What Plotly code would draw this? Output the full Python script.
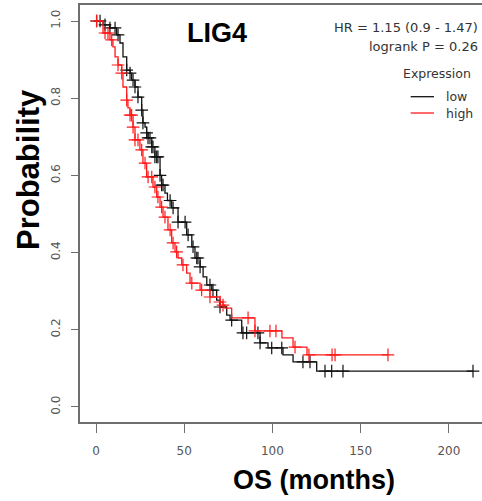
import plotly.graph_objects as go
import numpy as np

# ---- data ----
low_time = [0, 4.0, 7.9, 11.7, 13.6, 15.3, 17.4, 19.3, 20.2, 22.1, 23.8, 25.9, 26.6, 27.8, 28.7,
            29.5, 31.6, 33.4, 36.3, 37.2, 39.1, 40.5, 42.9, 46.5, 51.4, 54.3, 56.1, 59.0, 60.7,
            62.8, 65.6, 68.4, 70.3, 74.1, 76.0, 82.6, 93.0, 97.5, 106.0, 111.7, 125.1, 213.7]
low_surv = [1.0, 0.990, 0.982, 0.964, 0.943, 0.907, 0.873, 0.865, 0.847, 0.829, 0.803, 0.769, 0.736,
            0.725, 0.710, 0.697, 0.674, 0.648, 0.600, 0.575, 0.554, 0.535, 0.516, 0.479, 0.446, 0.415,
            0.386, 0.363, 0.337, 0.316, 0.303, 0.277, 0.259, 0.238, 0.225, 0.192, 0.166, 0.153, 0.135,
            0.117, 0.093, 0.093]
low_cens = [0.4, 2.3, 5.1, 7.9, 10.8, 12.5, 17.4, 19.3, 21.0, 22.1, 23.8, 25.9, 26.6, 28.7, 29.5,
            30.6, 31.6, 32.3, 33.4, 34.4, 35.1, 36.3, 37.2, 38.0, 42.0, 43.7, 46.5, 50.5, 52.2, 55.0,
            57.1, 57.8, 59.0, 64.6, 66.3, 70.3, 76.9, 83.3, 85.4, 91.8, 93.0, 99.6, 105.3, 117.3,
            121.3, 129.8, 133.6, 140.0, 213.7]

high_time = [0, 4.0, 7.9, 9.6, 10.8, 12.5, 14.6, 15.3, 17.4, 18.1, 19.3, 21.0, 22.1, 24.9, 26.6,
             28.7, 32.3, 34.4, 36.3, 38.0, 40.8, 42.9, 44.8, 46.5, 48.6, 51.4, 53.3, 59.0, 64.6,
             70.3, 72.0, 73.1, 76.9, 90.1, 105.4, 111.7, 119.6, 165.5]
high_surv = [1.0, 0.969, 0.951, 0.933, 0.907, 0.886, 0.865, 0.829, 0.795, 0.775, 0.756, 0.725, 0.692,
             0.666, 0.632, 0.596, 0.570, 0.544, 0.518, 0.492, 0.459, 0.425, 0.402, 0.386, 0.368, 0.347,
             0.321, 0.303, 0.285, 0.272, 0.264, 0.256, 0.231, 0.197, 0.179, 0.155, 0.135, 0.135]
high_cens = [0.3, 5.1, 6.8, 8.9, 12.5, 14.6, 17.4, 19.3, 20.2, 21.0, 22.1, 23.8, 25.9, 27.8, 29.5,
             31.6, 33.4, 35.1, 37.2, 39.1, 42.0, 43.7, 45.7, 49.3, 54.3, 59.9, 64.6, 70.3, 72.0,
             86.2, 90.1, 98.6, 102.0, 112.8, 120.7, 133.8, 135.5, 165.5]

x_ticks = [0, 50, 100, 150, 200]
y_ticks = [0.0, 0.2, 0.4, 0.6, 0.8, 1.0]
y_tick_labels = ["0.0", "0.2", "0.4", "0.6", "0.8", "1.0"]

title_text = "LIG4"
hr_text = "HR = 1.15 (0.9 - 1.47)"
p_text = "logrank P = 0.26"


def surv_at(times, surv, t):
    idx = np.searchsorted(np.array(times), t, side="right") - 1
    return [surv[i] for i in np.atleast_1d(idx)]


W, H = 482, 501
L, R, T, B = 80, 0, 5, 79
pw, ph = W - L - R, H - T - B


def px(xp):
    return (xp - L) / pw


def py(yp):
    return (H - B - yp) / ph


fig = go.Figure()
for times, surv, cens, col, name in [
    (low_time, low_surv, low_cens, "#111111", "low"),
    (high_time, high_surv, high_cens, "#ff1a1a", "high"),
]:
    fig.add_trace(go.Scatter(x=times, y=surv, mode="lines", line=dict(color=col, width=1.3, shape="hv"),
                             name=name, showlegend=False, hoverinfo="skip"))
    fig.add_trace(go.Scatter(x=cens, y=surv_at(times, surv, cens), mode="markers",
                             marker=dict(symbol="cross-thin", size=9, line=dict(color=col, width=1.2)),
                             showlegend=False, hoverinfo="skip"))

axis_col = "#6e6e6e"
tick_font = dict(family="DejaVu Sans", size=12, color="#555555")
fig.update_xaxes(range=[-9.07, 218.8], tickvals=x_ticks, ticks="outside", ticklen=9, tickwidth=1.2,
                 tickcolor=axis_col, showline=True, linecolor=axis_col, linewidth=1.5, mirror=True,
                 showgrid=False, zeroline=False, tickfont=tick_font, ticklabelstandoff=8)
fig.update_yaxes(range=[-0.0389, 1.0415], tickvals=y_ticks, ticktext=y_tick_labels, ticks="outside",
                 ticklen=7, tickwidth=1.2, tickcolor=axis_col, showline=True, linecolor=axis_col,
                 linewidth=1.5, mirror=False, showgrid=False, zeroline=False, tickangle=-90,
                 tickfont=tick_font, ticklabelstandoff=6)

ann = []
ann.append(dict(text=f"<b>{title_text}</b>", x=px(216.7), y=py(33), xref="paper", yref="paper",
                showarrow=False, font=dict(family="Liberation Sans", size=27, color="black"),
                xanchor="center", yanchor="middle"))
ann.append(dict(text=hr_text, x=px(480), y=py(27), xref="paper", yref="paper", showarrow=False,
                font=dict(family="DejaVu Sans", size=13, color="#333333"), xanchor="right", yanchor="middle"))
ann.append(dict(text=p_text, x=px(480), y=py(46), xref="paper", yref="paper", showarrow=False,
                font=dict(family="DejaVu Sans", size=13, color="#333333"), xanchor="right", yanchor="middle"))
ann.append(dict(text="Expression", x=px(473), y=py(74), xref="paper", yref="paper", showarrow=False,
                font=dict(family="DejaVu Sans", size=12.5, color="#333333"), xanchor="right", yanchor="middle"))
ann.append(dict(text="low", x=px(444), y=py(96.5), xref="paper", yref="paper", showarrow=False,
                font=dict(family="DejaVu Sans", size=12.5, color="#333333"), xanchor="left", yanchor="middle"))
ann.append(dict(text="high", x=px(444), y=py(113), xref="paper", yref="paper", showarrow=False,
                font=dict(family="DejaVu Sans", size=12.5, color="#333333"), xanchor="left", yanchor="middle"))
ann.append(dict(text="<b>OS (months)</b>", x=px(314), y=py(480), xref="paper", yref="paper",
                showarrow=False, font=dict(family="Liberation Sans", size=27, color="black"),
                xanchor="center", yanchor="middle"))
ann.append(dict(text="<b>Probability</b>", x=px(28), y=py(170), xref="paper", yref="paper",
                showarrow=False, textangle=-90, font=dict(family="Liberation Sans", size=31, color="black"),
                xanchor="center", yanchor="middle"))

shapes = [
    dict(type="line", xref="paper", yref="paper", x0=px(410.7), x1=px(434), y0=py(96.7), y1=py(96.7),
         line=dict(color="#111111", width=1.3)),
    dict(type="line", xref="paper", yref="paper", x0=px(410.7), x1=px(434), y0=py(113), y1=py(113),
         line=dict(color="#ff1a1a", width=1.3)),
]

fig.update_layout(width=W, height=H, margin=dict(l=L, r=R, t=T, b=B), plot_bgcolor="white",
                  paper_bgcolor="white", annotations=ann, shapes=shapes, showlegend=False)
fig.write_html("out.html", config={"displayModeBar": False},
               post_script="document.body.style.margin='0';document.body.style.overflow='hidden';")
